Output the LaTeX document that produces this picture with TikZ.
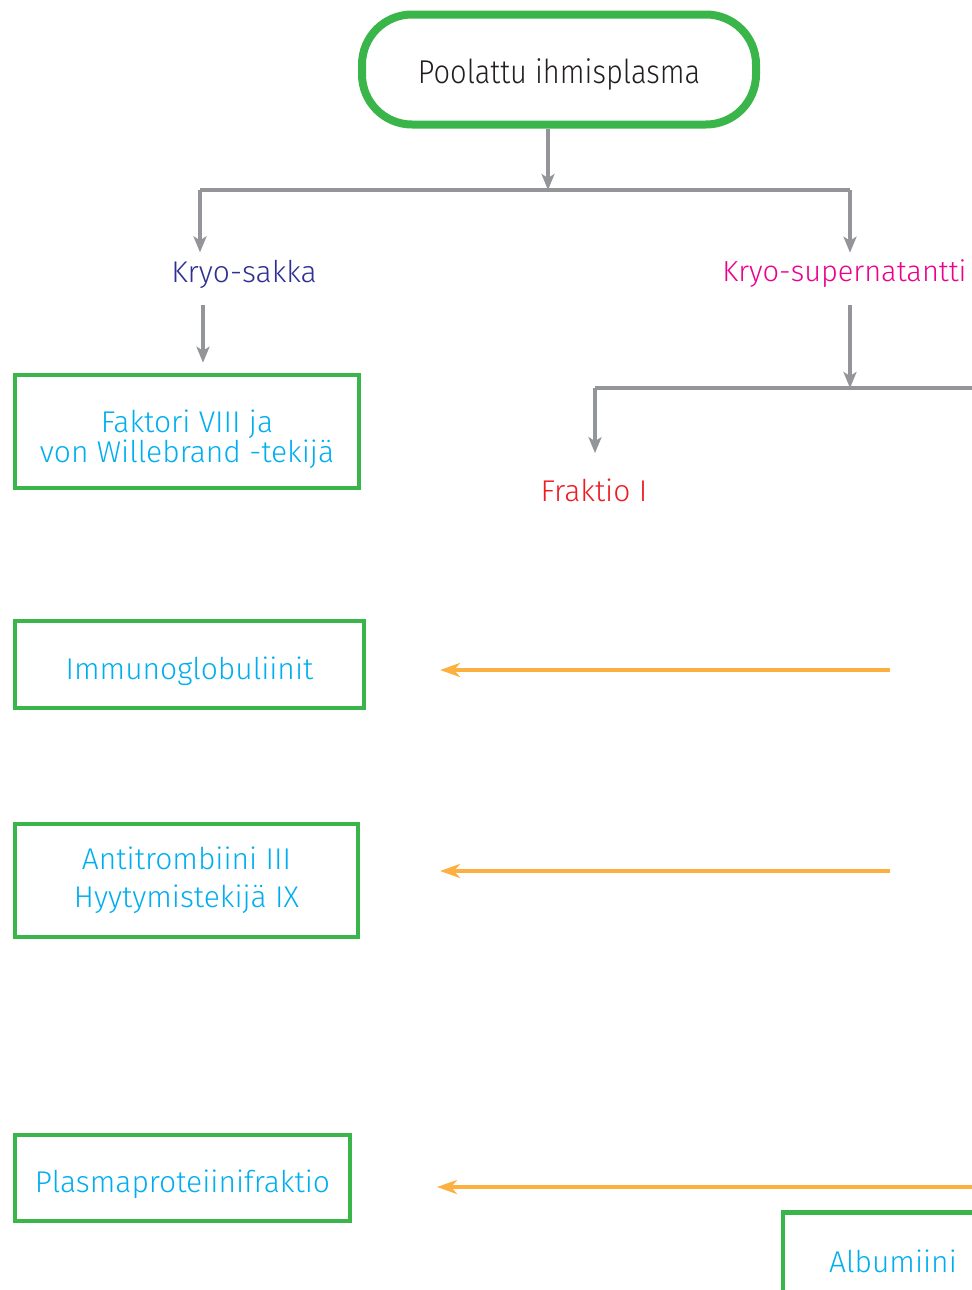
\documentclass[tikz,border=0pt]{standalone}
\usepackage{fontspec}
\setmainfont{Fira Sans}[UprightFont=* Light]
\newfontfamily\topfont{Fira Sans}[UprightFont=* Light, FakeStretch=0.88]
\usetikzlibrary{arrows.meta}

\definecolor{linkgray}{RGB}{147,149,152}
\definecolor{boxgreen}{RGB}{57,181,74}
\definecolor{textcyan}{RGB}{0,174,239}
\definecolor{textnavy}{RGB}{46,49,146}
\definecolor{textmagenta}{RGB}{236,0,140}
\definecolor{textred}{RGB}{237,28,36}
\definecolor{feedorange}{RGB}{251,176,64}
\definecolor{textdark}{RGB}{35,31,32}

\tikzset{
  link/.style={draw=linkgray, line width=2pt, -{Stealth[length=8pt,width=6.5pt,inset=2pt]}},
  feed/.style={draw=feedorange, line width=2pt, -{Stealth[length=10pt,width=7pt,inset=3pt]}},
  product/.style={draw=boxgreen, line width=2.3pt, text=textcyan, align=center,
    font=\fontsize{15}{15}\selectfont, inner sep=0pt,
    execute at begin node={\rule{0pt}{18pt}}},
  label/.style={font=\fontsize{15}{18}\selectfont, inner sep=2.5pt},
}

\begin{document}
\begin{tikzpicture}[x=0.5pt,y=-0.5pt]
  \useasboundingbox (0,0) rectangle (972,1290);
  \clip (0,0) rectangle (972,1290);
  % start
  \node[draw=boxgreen, line width=4pt, rounded corners=25pt, minimum width=197pt, minimum height=55pt,
    text=textdark, font=\topfont\fontsize{16.5}{18}\selectfont, inner sep=0pt,
    execute at begin node={\rule{0pt}{17pt}}] (plasma) at (559,69.5) {Poolattu ihmisplasma};
  % first split
  \coordinate (s0) at (548,190);
  \coordinate (sL) at (200,190);
  \coordinate (sR) at (850,190);
  \node[label, text=textnavy] (sakka) at (244,274) {Kryo-sakka};
  \node[label, text=textmagenta, anchor=west, font=\fontsize{14.5}{18}\selectfont] (super) at (717,274)
    {Kryo-supernatantti};
  \draw[link] (s0 |- plasma.south) -- (s0);
  \draw[link,-] (sL) -- (sR);
  \draw[link,shorten >=1pt] (sL) -- (sL |- sakka.north);
  \draw[link,shorten >=1pt] (sR) -- (sR |- super.north);
  % products
  \node[product, minimum width=172pt, minimum height=56.5pt, execute at begin node={},
    text height=31pt, text depth=0pt] (factor) at (187,431.5)
    {Faktori VIII ja\\von Willebrand -tekijä};
  \node[product, minimum width=174.5pt, minimum height=43.5pt] (immuno) at (189.5,664.5) {Immunoglobuliinit};
  \node[product, minimum width=171.5pt, minimum height=56.5pt, execute at begin node={}] (antitromb)
    at (186.5,880.5) {Antitrombiini III\\[4pt]Hyytymistekijä IX};
  \node[product, minimum width=167.5pt, minimum height=43pt] (ppf) at (182.5,1178) {Plasmaproteiinifraktio};
  \node[product, minimum width=110pt, minimum height=42.5pt] (albumin) at (893,1255) {Albumiini};
  \coordinate (k1) at (203,305);
  \draw[link,shorten >=5pt] (k1) -- (k1 |- factor.north);
  % second split
  \coordinate (s2) at (850,388);
  \coordinate (s2L) at (595,388);
  \coordinate (s2R) at (972,388);
  \node[label, text=textred] (fraktio) at (594,490) {Fraktio I};
  \draw[link,shorten <=6pt] (s2 |- super.south) -- (s2);
  \draw[link,-] (s2L) -- (s2R);
  \draw[link,shorten >=10pt] (s2L) -- (s2L |- fraktio.north);
  % feeds
  \foreach \n/\y/\xa/\xb in {1/670/890/440, 2/871/890/440, 3/1187/972/437}{
    \coordinate (fin\n) at (\xa,\y);
    \coordinate (fout\n) at (\xb,\y);
    \draw[feed] (fin\n) -- (fout\n);
  }
\end{tikzpicture}
\end{document}
